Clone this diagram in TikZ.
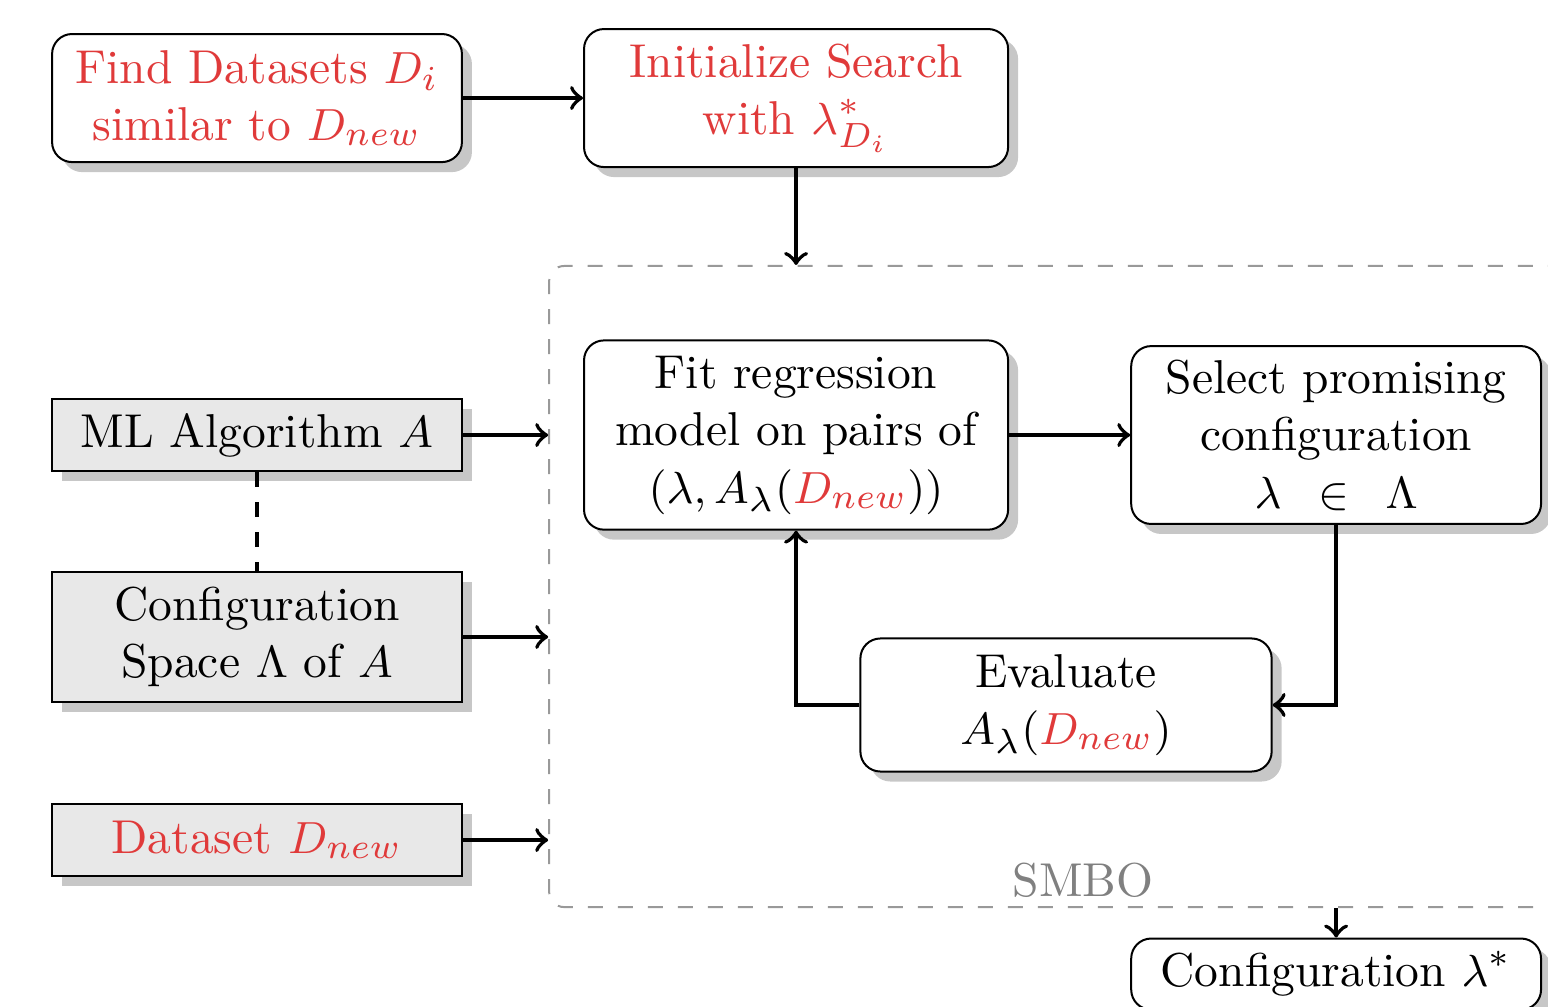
\documentclass[tikz,border=0pt]{standalone}
\usepackage{amsmath}
\usetikzlibrary{shadows}
\definecolor{hlred}{RGB}{224,58,58}
\tikzset{
  shadowed/.style={drop shadow={shadow xshift=2pt, shadow yshift=-2pt, opacity=1, fill=black!22}},
  procbox/.style={draw, rounded corners=4pt, fill=white, align=center, inner sep=2pt, shadowed},
  inputbox/.style={draw, fill=black!9, align=center, inner sep=2pt, shadowed},
  flow/.style={thick, ->},
}
\begin{document}
\begin{tikzpicture}[font=\fontsize{9.5pt}{11.5pt}\selectfont]
  \clip (0,0) rectangle (10.878,-7.070);
  % SMBO region
  \node (smbo) [draw=black!40, dashed, rounded corners=3pt, minimum width=7.44cm, minimum height=4.505cm] at (7.579,-4.1215) {};
  \node (smbolabel) [text=black!50] at (7.611,-6.184) {SMBO};
  % meta-learning start
  \node (find) [procbox, text=hlred, minimum width=2.88cm, minimum height=0.9cm] at (1.806,-0.689) {Find Datasets $D_i$\\ similar to $D_{new}$};
  \node (init) [procbox, text=hlred, minimum width=2.98cm, minimum height=0.97cm] at (5.594,-0.689) {Initialize Search\\ with $\lambda^*_{D_i}$};
  % inputs
  \node (algo) [inputbox, minimum width=2.88cm, minimum height=0.506cm] at (1.806,-3.057) {ML Algorithm $A$};
  \node (space) [inputbox, minimum width=2.88cm, minimum height=0.92cm] at (1.806,-4.476) {Configuration\\ Space $\Lambda$ of $A$};
  \node (data) [inputbox, text=hlred, minimum width=2.88cm, minimum height=0.5cm] at (1.806,-5.903) {Dataset $D_{new}$};
  % optimisation loop
  \node (fit) [procbox, minimum width=2.98cm, minimum height=1.33cm] at (5.594,-3.057) {Fit regression\\ model on pairs of\\ $(\lambda, A_\lambda(\textcolor{hlred}{D_{new}}))$};
  \node (select) [procbox, minimum width=2.88cm, minimum height=1.25cm] at (9.389,-3.057) {Select promising\\ configuration\\ $\lambda\enspace\in\enspace\Lambda$};
  \node (eval) [procbox, minimum width=2.89cm, minimum height=0.935cm] at (7.491,-4.954) {Evaluate\\ $A_\lambda(\textcolor{hlred}{D_{new}})$};
  \node (result) [procbox, minimum width=2.88cm, minimum height=0.5cm] at (9.389,-6.845) {Configuration $\lambda^*$};
  % connectors
  \draw[flow] (find) -- (init);
  \draw[flow] (init) -- (init |- smbo.north);
  \draw[flow] (algo) -- (algo -| smbo.west);
  \draw[flow] (space) -- (space -| smbo.west);
  \draw[flow] (data) -- (data -| smbo.west);
  \draw[thick, dashed] (algo) -- (space);
  \draw[flow] (fit) -- (select);
  \draw[flow] (select) |- (eval);
  \draw[flow] (eval) -| (fit);
  \draw[flow] (result |- smbo.south) -- (result);
\end{tikzpicture}
\end{document}
